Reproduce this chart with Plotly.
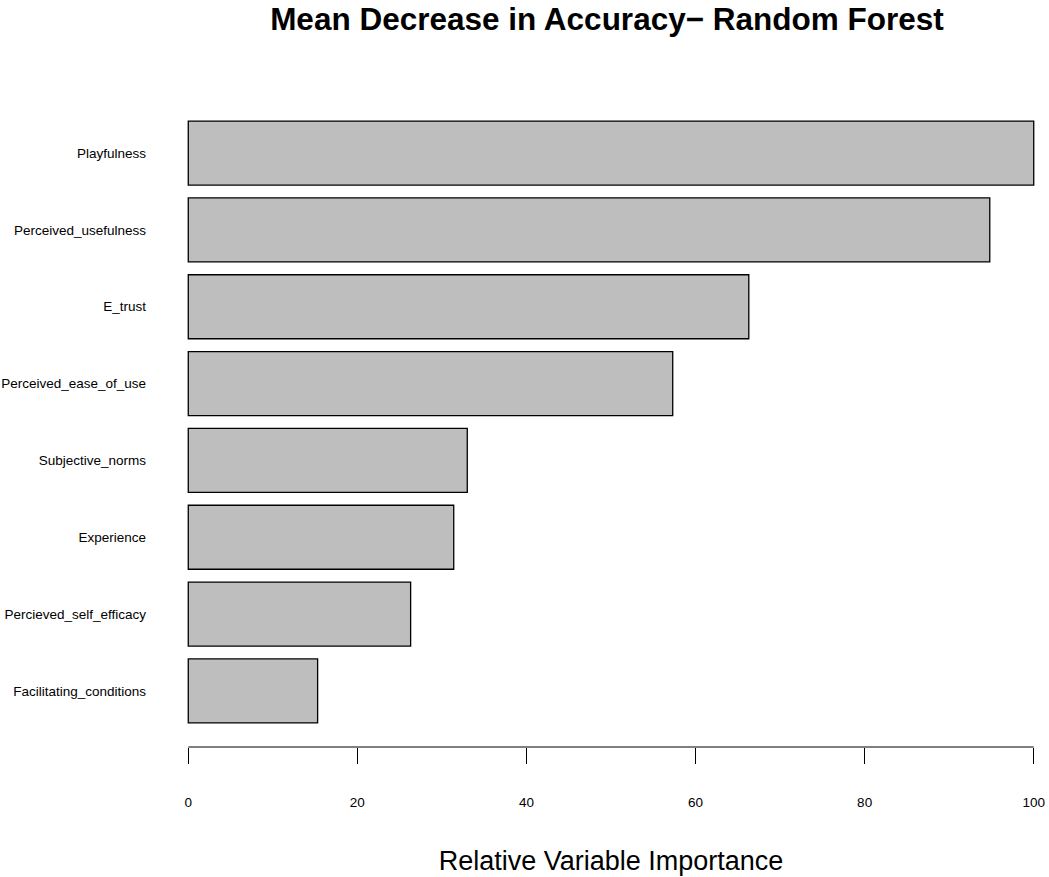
import plotly.graph_objects as go

# bottom to top
variables = ["Facilitating_conditions", "Percieved_self_efficacy", "Experience",
             "Subjective_norms", "Perceived_ease_of_use", "E_trust",
             "Perceived_usefulness", "Playfulness"]
importance = [15.3, 26.3, 31.4, 33.0, 57.3, 66.3, 94.8, 100.0]
x_ticks = [0, 20, 40, 60, 80, 100]

# R barplot positions: width 1, space 0.2
positions = [0.7 + 1.2 * i for i in range(len(variables))]

fig = go.Figure(go.Bar(
    x=importance, y=positions, orientation="h", width=1.0,
    marker=dict(color="#BEBEBE", line=dict(color="black", width=1.3)),
    hoverinfo="x+text", text=variables, textposition="none",
))

FONT = "Liberation Sans, Arial, sans-serif"
W, H = 1049, 877
fig.update_layout(
    width=W, height=H,
    margin=dict(l=187, r=14, t=97, b=130, autoexpand=False),
    plot_bgcolor="white", paper_bgcolor="white",
    showlegend=False,
    font=dict(family=FONT, color="black"),
    title=dict(text="<b>Mean Decrease in Accuracy\u2212 Random Forest</b>",
               font=dict(size=31.5, family=FONT, color="black"),
               x=607 / W, xanchor="center", xref="container",
               y=1 - 8 / H, yanchor="top", yref="container"),
)
fig.update_xaxes(
    range=[-0.15, 100.15], tickvals=x_ticks, ticktext=[str(v) for v in x_ticks],
    showline=False, ticks="outside", ticklen=16, tickcolor="black", tickwidth=1,
    showgrid=False, zeroline=False, tickfont=dict(size=13.5, family=FONT),
    ticklabelstandoff=27, automargin=False,
    title=dict(text="Relative Variable Importance", font=dict(size=27, family=FONT),
               standoff=41),
)
fig.update_yaxes(
    range=[-0.176, 9.976], tickvals=positions, ticktext=variables,
    showline=False, ticks="", showgrid=False, zeroline=False,
    tickfont=dict(size=13.5, family=FONT), ticklabelstandoff=40, automargin=False,
)
# axis line spanning 0..100 only (as in R)
fig.add_shape(type="line", xref="x", yref="paper", x0=0, x1=100, y0=0, y1=0,
              line=dict(color="black", width=1))

fig.write_html("out.html", config={"displayModeBar": False},
               post_script="document.body.style.margin='0';")
